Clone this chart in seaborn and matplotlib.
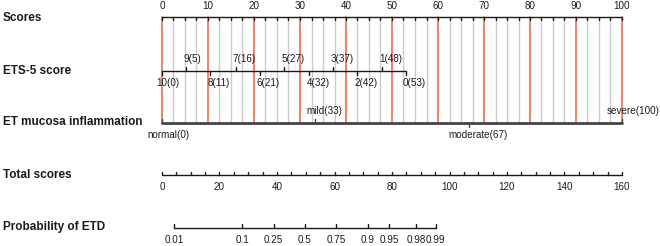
import numpy as np
import pandas as pd
import matplotlib
matplotlib.use("Agg")
import matplotlib.pyplot as plt
import seaborn as sns

# rows of the nomogram
row_names = ["Scores", "ETS-5 score", "ET mucosa inflammation", "Total scores", "Probability of ETD"]

# points scale
score_ticks = [0, 10, 20, 30, 40, 50, 60, 70, 80, 90, 100]
score_minor = list(np.arange(0, 100.1, 2.5))

# ETS-5 score: level -> points
ets_levels = ["10", "9", "8", "7", "6", "5", "4", "3", "2", "1", "0"]
ets_points = [0, 5.2, 10.5, 16.0, 21.2, 26.6, 32.0, 37.2, 42.5, 47.8, 53.0]
ets_labels = [0, 5, 11, 16, 21, 27, 32, 37, 42, 48, 53]

# ET mucosa inflammation: level -> points
muc_levels = ["normal", "mild", "moderate", "severe"]
muc_points = [0, 33.3, 66.7, 100]
muc_labels = [0, 33, 67, 100]

# total score scale
total_ticks = [0, 20, 40, 60, 80, 100, 120, 140, 160]
total_max = 160

# probability scale: label -> total score position
prob_labels = ["0.01", "0.1", "0.25", "0.5", "0.75", "0.9", "0.95", "0.98", "0.99"]
prob_total = [4.2, 27.9, 38.8, 49.7, 60.6, 71.5, 78.9, 88.3, 95.2]

sns.set_theme(style="white")
plt.rcParams['font.family'] = ['Liberation Sans', 'DejaVu Sans']

red = "#F9583A"
grey = "#CBCBCB"
dark = "#1A1A1A"
fs = 7.1

fig = plt.figure(figsize=(6.6, 2.46), dpi=100)
ax = fig.add_axes([0, 0, 1, 1])
ppu = 4.6  # pixels per point unit
ax.set_xlim(-162 / ppu, (660 - 162) / ppu)
ax.set_ylim(246, 0)
ax.axis("off")
renderer = fig.canvas.get_renderer()

y_sc, y_ets, y_muc, y_tot, y_prob = 17, 71, 123, 175, 228

# vertical reference lines
for v in score_minor:
    if v % 10 == 0:
        continue
    ax.plot([v, v], [y_sc, y_muc], color=grey, lw=1.0, zorder=1)
for v in score_ticks:
    ax.plot([v, v], [y_sc, y_muc], color=red, lw=1.1, zorder=2)

# axis lines via seaborn
tot_pos = [t * 100 / total_max for t in total_ticks]
prob_pos = [t * 100 / total_max for t in prob_total]
lines = pd.DataFrame({
    "x": [0, 100, ets_points[0], ets_points[-1], tot_pos[0], tot_pos[-1], prob_pos[0], prob_pos[-1]],
    "y": [y_sc, y_sc, y_ets, y_ets, y_tot, y_tot, y_prob, y_prob],
    "row": ["sc", "sc", "ets", "ets", "tot", "tot", "prob", "prob"],
})
sns.lineplot(data=lines, x="x", y="y", units="row", estimator=None, sort=False,
             color=dark, lw=1.0, ax=ax, zorder=3)
muc_line = pd.DataFrame({"x": [muc_points[0], muc_points[-1]], "y": [y_muc, y_muc]})
sns.lineplot(data=muc_line, x="x", y="y", color="#444444", lw=2.0, ax=ax, zorder=3)

# Scores axis
for v in score_minor:
    ax.plot([v, v], [y_sc, y_sc + 3], color=dark, lw=1.0, zorder=3)
for v in score_ticks:
    ax.text(v, y_sc - 11, str(v), ha="center", va="center", fontsize=fs, color=dark)


def level_label(x, y, level, pts):
    # level name centred on the tick, points appended after it
    t = ax.text(x, y, level, ha="center", va="center", fontsize=fs)
    bb = t.get_window_extent(renderer=renderer)
    left = ax.transData.inverted().transform((bb.x0, bb.y0))[0]
    t.remove()
    ax.text(left, y, f"{level}({pts})", ha="left", va="center", fontsize=fs, color=dark)


# ETS-5 score
for i, (lv, p, lab) in enumerate(zip(ets_levels, ets_points, ets_labels)):
    if i % 2 == 1:
        ax.plot([p, p], [y_ets, y_ets - 4], color=dark, lw=1.0, zorder=3)
        level_label(p, y_ets - 11.5, lv, lab)
    else:
        ax.plot([p, p], [y_ets, y_ets + 4], color=dark, lw=1.0, zorder=3)
        level_label(p, y_ets + 12, lv, lab)

# ET mucosa inflammation
for lv, p, lab in zip(muc_levels, muc_points, muc_labels):
    if lv == "moderate":
        ax.plot([p, p], [y_muc, y_muc + 4], color="#444444", lw=1.0, zorder=3)
    else:
        ax.plot([p, p], [y_muc, y_muc - 4], color="#444444", lw=1.0, zorder=3)
    if lv in ("normal", "moderate"):
        level_label(p, y_muc + 12, lv, lab)
    else:
        level_label(p, y_muc - 12, lv, lab)

# Total scores
for t in range(0, total_max + 1, 5):
    x = t * 100 / total_max
    ax.plot([x, x], [y_tot, y_tot - 3], color=dark, lw=1.0, zorder=3)
for t, x in zip(total_ticks, tot_pos):
    ax.text(x, y_tot + 12, str(t), ha="center", va="center", fontsize=fs, color=dark)

# Probability
for lab, x in zip(prob_labels, prob_pos):
    ax.plot([x, x], [y_prob, y_prob - 4], color=dark, lw=1.0, zorder=3)
    ax.text(x, y_prob + 12, lab, ha="center", va="center", fontsize=fs, color=dark)

# row titles
for name, y in zip(row_names, [y_sc + 1, y_ets, y_muc - 1, y_tot, y_prob - 1]):
    ax.text(-162 / ppu + 3 / ppu, y, name, ha="left", va="center",
            fontsize=8.5, fontweight="bold", color=dark)

fig.savefig("out.png", dpi=100)
